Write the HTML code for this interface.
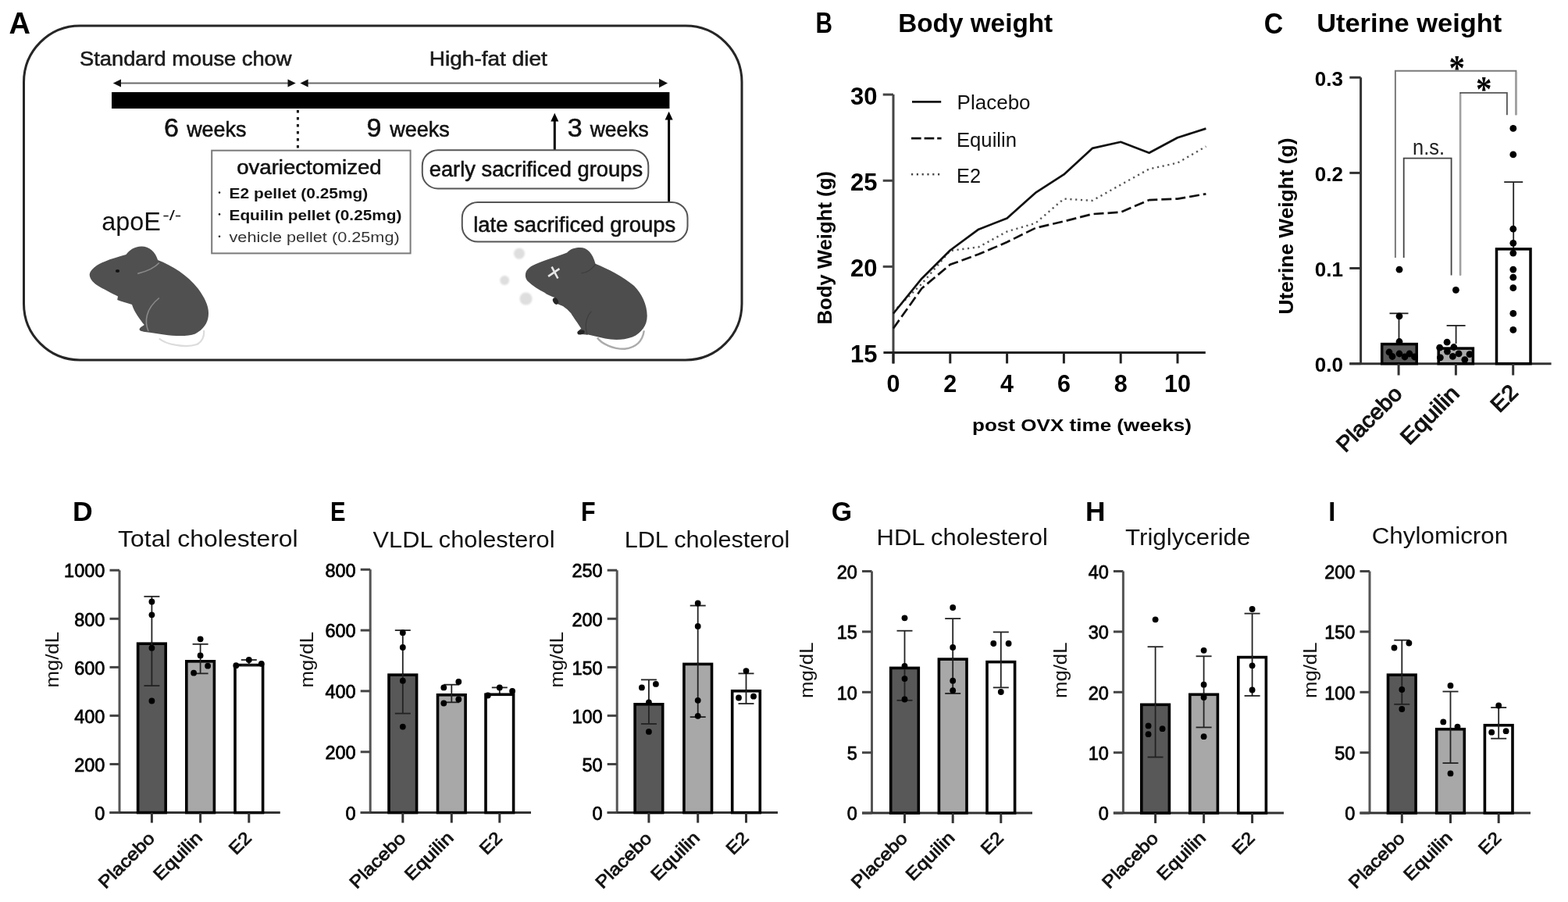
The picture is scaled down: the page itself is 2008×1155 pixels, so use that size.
<!DOCTYPE html>
<html><head><meta charset="utf-8"><title>Figure</title>
<style>
html,body{margin:0;padding:0;background:#fff;}
svg{display:block;}
svg text{font-family:"Liberation Sans", Arial, sans-serif;}
.hv{stroke:#111;stroke-width:0.55px;paint-order:stroke;}
.sb{stroke:#111;stroke-width:0.8px;paint-order:stroke;}
.sb2{stroke:#111;stroke-width:1.1px;paint-order:stroke;}
</style></head>
<body>
<svg width="2008" height="1155" viewBox="0 0 2008 1155">
<defs><filter id="bl" x="-50%" y="-50%" width="200%" height="200%"><feGaussianBlur stdDeviation="1.3"/></filter></defs>
<rect x="0" y="0" width="2008" height="1155" fill="#fff"/>
<text x="11.5" y="42.8" font-size="38.5" font-weight="bold" textLength="27.5" lengthAdjust="spacingAndGlyphs">A</text>
<rect x="30.5" y="33.0" width="919.5" height="428.0" fill="none" stroke="#262626" stroke-width="3" rx="72" />
<text x="102.0" y="83.6" font-size="26" textLength="271.5" lengthAdjust="spacingAndGlyphs" fill="#1a1a1a" class="hv">Standard mouse chow</text>
<text x="549.8" y="83.6" font-size="26" textLength="151.0" lengthAdjust="spacingAndGlyphs" fill="#1a1a1a" class="hv">High-fat diet</text>
<line x1="150.0" y1="106.5" x2="372.0" y2="106.5" stroke="#6a6a6a" stroke-width="2.2" />
<line x1="390.0" y1="106.5" x2="848.0" y2="106.5" stroke="#6a6a6a" stroke-width="2.2" />
<path d="M144.8 106.5 L155 101.5 L155 111.5 Z" fill="#111" />
<path d="M378.7 106.5 L368.5 101.5 L368.5 111.5 Z" fill="#111" />
<path d="M384.4 106.5 L394.6 101.5 L394.6 111.5 Z" fill="#111" />
<path d="M855 106.5 L844 100.8 L844 112.2 Z" fill="#111" />
<rect x="143.0" y="118.0" width="714.4" height="21.0" fill="#000" />
<line x1="381.4" y1="141.0" x2="381.4" y2="192.0" stroke="#111" stroke-width="3" stroke-dasharray="3.5 5.5"/>
<text x="209.9" y="175.2" font-size="34" fill="#111" class="hv">6</text>
<text x="239.2" y="175.2" font-size="28" textLength="76.2" lengthAdjust="spacingAndGlyphs" fill="#111" class="hv">weeks</text>
<text x="469.4" y="175.2" font-size="34" fill="#111" class="hv">9</text>
<text x="499.2" y="175.2" font-size="28" textLength="76.6" lengthAdjust="spacingAndGlyphs" fill="#111" class="hv">weeks</text>
<text x="726.8" y="175.4" font-size="34" fill="#111" class="hv">3</text>
<text x="755.8" y="175.4" font-size="28" textLength="74.8" lengthAdjust="spacingAndGlyphs" fill="#111" class="hv">weeks</text>
<line x1="710.3" y1="153.0" x2="710.3" y2="192.0" stroke="#000" stroke-width="3" />
<path d="M710.3 144.8 L715.3 155.5 L705.3 155.5 Z" fill="#000" />
<line x1="856.6" y1="151.0" x2="856.6" y2="259.0" stroke="#000" stroke-width="3" />
<path d="M856.6 142.8 L861.6 153.5 L851.6 153.5 Z" fill="#000" />
<rect x="271.2" y="192.7" width="254.4" height="131.7" fill="none" stroke="#7a7a7a" stroke-width="2" />
<text x="303.2" y="223.3" font-size="26" textLength="185.5" lengthAdjust="spacingAndGlyphs" fill="#111" class="hv">ovariectomized</text>
<circle cx="281.0" cy="246.6" r="1.3" fill="#222"/>
<circle cx="281.0" cy="274.4" r="1.3" fill="#222"/>
<circle cx="281.0" cy="302.8" r="1.3" fill="#222"/>
<text x="293.5" y="254.0" font-size="17.5" font-weight="bold" textLength="177.8" lengthAdjust="spacingAndGlyphs" fill="#111">E2 pellet (0.25mg)</text>
<text x="293.5" y="281.9" font-size="17.5" font-weight="bold" textLength="221.0" lengthAdjust="spacingAndGlyphs" fill="#111">Equilin pellet (0.25mg)</text>
<text x="293.5" y="309.8" font-size="17.5" textLength="218.2" lengthAdjust="spacingAndGlyphs" fill="#333">vehicle pellet (0.25mg)</text>
<rect x="540.8" y="192.2" width="289.5" height="49.3" fill="#fff" stroke="#555" stroke-width="2" rx="20" />
<text x="549.7" y="226.2" font-size="27" textLength="273.4" lengthAdjust="spacingAndGlyphs" fill="#111" class="hv">early sacrificed groups</text>
<rect x="591.8" y="258.9" width="288.7" height="50.7" fill="#fff" stroke="#555" stroke-width="2" rx="20" />
<text x="606.2" y="297.0" font-size="27" textLength="259.0" lengthAdjust="spacingAndGlyphs" fill="#111" class="hv">late sacrificed groups</text>
<text x="130.3" y="295.3" font-size="32.5" textLength="75.6" lengthAdjust="spacingAndGlyphs" fill="#111">apoE</text>
<text x="208.2" y="281.5" font-size="19" textLength="24.2" lengthAdjust="spacingAndGlyphs" fill="#111">-/-</text>
<path d="M114.7 351.2 C115.5 345.5 124 338.5 134.6 334.8 C142 331.5 152 329 161.4 326.1 C165 320.5 172 315.6 181.3 315.4 C191 315.6 199 322 202.1 333.1 C220 340 240 352 254 370 C262 381 267.5 392 267 402 C266.8 412 262 421 250 427.5 C240 431 225 430.5 210 428.5 L191.7 425.7 C186 425 181 424.5 179 423 C177.5 421 180 419 184.8 416.1 C180 410 172 400 169 390 C163 388 155 386 150.2 384.1 L151 379.5 C144 376 132 370 124 365 C118 361 114.5 356 114.7 351.2 Z" fill="#505050" />
<path d="M203.8 433.5 C212 441 238 446 252 441 C259 438 262 430 261 423" fill="none" stroke="#dcdcdc" stroke-width="2.2" />
<ellipse cx="150.5" cy="347" rx="2.6" ry="2" fill="#111"/>
<path d="M176.2 350.4 C186 348 198 343 203.8 336.5" fill="none" stroke="#8a8a8a" stroke-width="1.6" />
<path d="M190 424 C185 412 186 396 203.8 381.5" fill="none" stroke="#8a8a8a" stroke-width="1.6" />
<circle cx="665" cy="324.7" r="7" fill="#dedede" filter="url(#bl)"/>
<circle cx="646.2" cy="359" r="6" fill="#dedede" filter="url(#bl)"/>
<circle cx="673.5" cy="382.5" r="8" fill="#dedede" filter="url(#bl)"/>
<path d="M672.9 351.9 C673 345 680 340 690 336.5 C700 332 712 329 726.1 323.4 C731 318 737 316.9 743 316.9 C752 317 759 324 762.5 337.7 C778 344 798 354 812 366 C822 376 828.5 390 828.7 403.9 C829 416 822 426 810 431.5 C798 436 785 435.5 775 433.5 L753.4 428.6 C749 428.3 745 428.2 742 427.5 C739 426 740 423.5 744.3 420.8 C740 414 734 406 731.3 401.3 C727 396 722 392 718.3 390.9 C714 389 711 388 709.9 387 L711.2 381.2 C705 379 700 377 697.5 374.7 C690 371 682 366 675.5 359.7 C673.5 357 672.7 354.5 672.9 351.9 Z" fill="#4d4d4d" />
<path d="M765 432.5 C770 440 785 447 800 446.8 C815 445 823 436 824.8 423.4" fill="none" stroke="#ababab" stroke-width="2.4" />
<path d="M702.1 353.9 L716.4 344.2 M706.6 341.6 L714.4 356.5" fill="none" stroke="#e6e6e6" stroke-width="2.6" />
<path d="M762.5 338.3 C758 345 752 349 744.3 350" fill="none" stroke="#3e3e3e" stroke-width="1.2" />
<ellipse cx="711.5" cy="385.5" rx="3.2" ry="4.6" fill="#262626" transform="rotate(-30 711.5 385.5)"/>
<ellipse cx="744" cy="425.5" rx="4.8" ry="2.8" fill="#262626" transform="rotate(-15 744 425.5)"/>
<path d="M752 428.6 C749 420 749 408 757.3 398.7" fill="none" stroke="#3e3e3e" stroke-width="1.2" />
<text x="1044.4" y="42.3" font-size="36" font-weight="bold" textLength="21.5" lengthAdjust="spacingAndGlyphs">B</text>
<text x="1150.2" y="40.6" font-size="33" font-weight="bold" textLength="198.0" lengthAdjust="spacingAndGlyphs">Body weight</text>
<line x1="1144.0" y1="121.1" x2="1144.0" y2="465.4" stroke="#444" stroke-width="3" />
<line x1="1131.4" y1="451.6" x2="1543.8" y2="451.6" stroke="#222" stroke-width="3" />
<line x1="1130.7" y1="121.1" x2="1144.0" y2="121.1" stroke="#444" stroke-width="3" />
<text x="1123.5" y="134.1" font-size="31" font-weight="bold" text-anchor="end">30</text>
<line x1="1130.7" y1="231.3" x2="1144.0" y2="231.3" stroke="#444" stroke-width="3" />
<text x="1123.5" y="244.3" font-size="31" font-weight="bold" text-anchor="end">25</text>
<line x1="1130.7" y1="341.4" x2="1144.0" y2="341.4" stroke="#444" stroke-width="3" />
<text x="1123.5" y="354.4" font-size="31" font-weight="bold" text-anchor="end">20</text>
<text x="1123.5" y="463.8" font-size="31" font-weight="bold" text-anchor="end">15</text>
<line x1="1144.0" y1="451.6" x2="1144.0" y2="465.4" stroke="#222" stroke-width="3" />
<text x="1144.0" y="502.2" font-size="30.5" font-weight="bold" text-anchor="middle">0</text>
<line x1="1216.8" y1="451.6" x2="1216.8" y2="465.4" stroke="#222" stroke-width="3" />
<text x="1216.8" y="502.2" font-size="30.5" font-weight="bold" text-anchor="middle">2</text>
<line x1="1289.6" y1="451.6" x2="1289.6" y2="465.4" stroke="#222" stroke-width="3" />
<text x="1289.6" y="502.2" font-size="30.5" font-weight="bold" text-anchor="middle">4</text>
<line x1="1362.4" y1="451.6" x2="1362.4" y2="465.4" stroke="#222" stroke-width="3" />
<text x="1362.4" y="502.2" font-size="30.5" font-weight="bold" text-anchor="middle">6</text>
<line x1="1435.2" y1="451.6" x2="1435.2" y2="465.4" stroke="#222" stroke-width="3" />
<text x="1435.2" y="502.2" font-size="30.5" font-weight="bold" text-anchor="middle">8</text>
<line x1="1508.0" y1="451.6" x2="1508.0" y2="465.4" stroke="#222" stroke-width="3" />
<text x="1508.0" y="502.2" font-size="30.5" font-weight="bold" text-anchor="middle">10</text>
<text x="1245.0" y="552.2" font-size="22.5" font-weight="bold" textLength="281.0" lengthAdjust="spacingAndGlyphs">post OVX time (weeks)</text>
<text x="1065.3" y="415.6" font-size="25.6" font-weight="bold" textLength="196.5" lengthAdjust="spacingAndGlyphs" transform="rotate(-90 1065.3 415.6)">Body Weight (g)</text>
<line x1="1168.0" y1="130.4" x2="1205.2" y2="130.4" stroke="#111" stroke-width="2.8" />
<text x="1225.6" y="139.7" font-size="25.6" textLength="94.0" lengthAdjust="spacingAndGlyphs" fill="#111">Placebo</text>
<line x1="1167.0" y1="177.2" x2="1205.6" y2="177.2" stroke="#111" stroke-width="2.8" stroke-dasharray="12.7 3.9"/>
<text x="1225.0" y="188.2" font-size="25.6" textLength="77.0" lengthAdjust="spacingAndGlyphs" fill="#111">Equilin</text>
<line x1="1167.0" y1="223.2" x2="1205.6" y2="223.2" stroke="#444" stroke-width="2.4" stroke-dasharray="2.2 4.6"/>
<text x="1225.0" y="234.2" font-size="25.6" textLength="31.0" lengthAdjust="spacingAndGlyphs" fill="#111">E2</text>
<polyline points="1144.0,399.0 1180.4,363.5 1216.8,321.0 1253.2,316.4 1289.6,296.5 1326.0,285.8 1362.4,254.6 1398.8,256.9 1435.2,236.6 1471.6,216.4 1508.0,208.6 1544.4,187.5" fill="none" stroke="#555" stroke-width="2.4" stroke-dasharray="2.2 4.6"/>
<polyline points="1144.0,420.5 1180.4,369.3 1216.8,338.8 1253.2,325.6 1289.6,310.0 1326.0,292.0 1362.4,283.4 1398.8,274.1 1435.2,271.7 1471.6,256.1 1508.0,254.6 1544.4,248.3" fill="none" stroke="#111" stroke-width="2.7" stroke-dasharray="13 5"/>
<polyline points="1144.0,401.5 1180.4,356.7 1216.8,320.5 1253.2,293.7 1289.6,279.5 1326.0,246.9 1362.4,223.4 1398.8,189.9 1435.2,181.8 1471.6,195.8 1508.0,176.2 1544.4,164.6" fill="none" stroke="#111" stroke-width="2.7" stroke-linejoin="round"/>
<text x="1618.8" y="42.5" font-size="37" font-weight="bold" textLength="24.5" lengthAdjust="spacingAndGlyphs">C</text>
<text x="1686.2" y="40.6" font-size="33" font-weight="bold" textLength="237.0" lengthAdjust="spacingAndGlyphs">Uterine weight</text>
<path d="M1786.9 330 L1786.9 90.8 L1941.4 90.8 L1941.4 147.3" fill="none" stroke="#7a7a7a" stroke-width="2" />
<line x1="1941.4" y1="92.0" x2="1941.4" y2="147.3" stroke="#a0a0a0" stroke-width="2.6" />
<path d="M1870.1 352.5 L1870.1 118.9 L1929.9 118.9 L1929.9 147.3" fill="none" stroke="#555" stroke-width="1.8" />
<line x1="1870.1" y1="120.0" x2="1870.1" y2="352.5" stroke="#a0a0a0" stroke-width="2.6" />
<path d="M1797.7 330 L1797.7 202.7 L1858.6 202.7 L1858.6 352.5" fill="none" stroke="#444" stroke-width="1.8" />
<text x="1865.7" y="102.5" font-size="46" font-weight="bold" text-anchor="middle" textLength="20.5" lengthAdjust="spacingAndGlyphs" style="font-family:'Liberation Serif', serif">*</text>
<text x="1900.2" y="130.2" font-size="46" font-weight="bold" text-anchor="middle" textLength="20.5" lengthAdjust="spacingAndGlyphs" style="font-family:'Liberation Serif', serif">*</text>
<text x="1809.1" y="197.9" font-size="28" textLength="41.0" lengthAdjust="spacingAndGlyphs" fill="#222">n.s.</text>
<line x1="1742.6" y1="99.2" x2="1742.6" y2="465.7" stroke="#333" stroke-width="3" />
<line x1="1728.3" y1="465.7" x2="1986.6" y2="465.7" stroke="#333" stroke-width="3" />
<line x1="1728.3" y1="465.7" x2="1742.6" y2="465.7" stroke="#333" stroke-width="3" />
<text x="1720.0" y="476.2" font-size="26" font-weight="bold" text-anchor="end">0.0</text>
<line x1="1728.3" y1="343.5" x2="1742.6" y2="343.5" stroke="#333" stroke-width="3" />
<text x="1720.0" y="354.0" font-size="26" font-weight="bold" text-anchor="end">0.1</text>
<line x1="1728.3" y1="221.4" x2="1742.6" y2="221.4" stroke="#333" stroke-width="3" />
<text x="1720.0" y="231.9" font-size="26" font-weight="bold" text-anchor="end">0.2</text>
<line x1="1728.3" y1="99.2" x2="1742.6" y2="99.2" stroke="#333" stroke-width="3" />
<text x="1720.0" y="109.7" font-size="26" font-weight="bold" text-anchor="end">0.3</text>
<line x1="1791.5" y1="401.3" x2="1791.5" y2="440.0" stroke="#222" stroke-width="1.8" />
<line x1="1779.5" y1="401.3" x2="1803.5" y2="401.3" stroke="#222" stroke-width="1.8" />
<line x1="1864.6" y1="416.9" x2="1864.6" y2="440.0" stroke="#222" stroke-width="1.8" />
<line x1="1852.6" y1="416.9" x2="1876.6" y2="416.9" stroke="#222" stroke-width="1.8" />
<line x1="1938.2" y1="233.1" x2="1938.2" y2="440.0" stroke="#222" stroke-width="1.8" />
<line x1="1926.2" y1="233.1" x2="1950.2" y2="233.1" stroke="#222" stroke-width="1.8" />
<rect x="1769.7" y="440.6" width="44.5" height="25.1" fill="#5a5a5a" stroke="#000" stroke-width="3.5" />
<rect x="1842.2" y="446.1" width="44.2" height="19.6" fill="#aaa" stroke="#000" stroke-width="3.5" />
<rect x="1916.5" y="318.9" width="43.5" height="146.8" fill="#fff" stroke="#000" stroke-width="3.5" />
<circle cx="1792.0" cy="345.2" r="4.4" fill="#000"/>
<circle cx="1792.0" cy="404.8" r="4.4" fill="#000"/>
<circle cx="1792.0" cy="437.5" r="4.4" fill="#000"/>
<circle cx="1779.0" cy="451.0" r="4.4" fill="#000"/>
<circle cx="1792.0" cy="453.0" r="4.4" fill="#000"/>
<circle cx="1805.0" cy="453.0" r="4.4" fill="#000"/>
<circle cx="1783.0" cy="456.5" r="4.4" fill="#000"/>
<circle cx="1799.0" cy="457.0" r="4.4" fill="#000"/>
<circle cx="1811.5" cy="457.0" r="4.4" fill="#000"/>
<circle cx="1864.4" cy="371.3" r="4.4" fill="#000"/>
<circle cx="1853.1" cy="438.2" r="4.4" fill="#000"/>
<circle cx="1843.7" cy="445.2" r="4.4" fill="#000"/>
<circle cx="1861.8" cy="444.5" r="4.4" fill="#000"/>
<circle cx="1853.4" cy="450.1" r="4.4" fill="#000"/>
<circle cx="1868.1" cy="452.9" r="4.4" fill="#000"/>
<circle cx="1860.4" cy="456.4" r="4.4" fill="#000"/>
<circle cx="1844.4" cy="457.8" r="4.4" fill="#000"/>
<circle cx="1875.8" cy="460.6" r="4.4" fill="#000"/>
<circle cx="1882.0" cy="453.6" r="4.4" fill="#000"/>
<circle cx="1937.8" cy="164.4" r="4.4" fill="#000"/>
<circle cx="1937.8" cy="197.9" r="4.4" fill="#000"/>
<circle cx="1937.8" cy="293.2" r="4.4" fill="#000"/>
<circle cx="1937.8" cy="311.3" r="4.4" fill="#000"/>
<circle cx="1937.8" cy="324.1" r="4.4" fill="#000"/>
<circle cx="1937.8" cy="345.1" r="4.4" fill="#000"/>
<circle cx="1937.8" cy="355.2" r="4.4" fill="#000"/>
<circle cx="1937.8" cy="368.7" r="4.4" fill="#000"/>
<circle cx="1937.8" cy="401.4" r="4.4" fill="#000"/>
<circle cx="1937.8" cy="422.4" r="4.4" fill="#000"/>
<line x1="1791.1" y1="465.7" x2="1791.1" y2="480.5" stroke="#333" stroke-width="3" />
<text x="1797.3" y="505.8" font-size="27.8" text-anchor="end" textLength="105.5" lengthAdjust="spacingAndGlyphs" fill="#111" transform="rotate(-45 1797.3 505.8)" class="sb2">Placebo</text>
<line x1="1864.4" y1="465.7" x2="1864.4" y2="480.5" stroke="#333" stroke-width="3" />
<text x="1870.5" y="505.2" font-size="27.8" text-anchor="end" textLength="93.0" lengthAdjust="spacingAndGlyphs" fill="#111" transform="rotate(-45 1870.5 505.2)" class="sb2">Equilin</text>
<line x1="1937.7" y1="465.7" x2="1937.7" y2="480.5" stroke="#333" stroke-width="3" />
<text x="1945.7" y="504.0" font-size="27.8" text-anchor="end" textLength="36.0" lengthAdjust="spacingAndGlyphs" fill="#111" transform="rotate(-45 1945.7 504.0)" class="sb2">E2</text>
<text x="1656.0" y="402.6" font-size="26" font-weight="bold" textLength="226.0" lengthAdjust="spacingAndGlyphs" transform="rotate(-90 1656.0 402.6)">Uterine Weight (g)</text>
<text x="93.0" y="667.4" font-size="35" font-weight="bold" textLength="25.7" lengthAdjust="spacingAndGlyphs">D</text>
<text x="151.1" y="700.3" font-size="29" textLength="230.6" lengthAdjust="spacingAndGlyphs" fill="#111">Total cholesterol</text>
<line x1="153.0" y1="730.2" x2="153.0" y2="1040.6" stroke="#555" stroke-width="3" />
<line x1="140.5" y1="1040.6" x2="358.8" y2="1040.6" stroke="#333" stroke-width="3" />
<line x1="140.5" y1="1040.6" x2="153.0" y2="1040.6" stroke="#444" stroke-width="3" />
<text x="134.4" y="1049.8" font-size="23.5" text-anchor="end" class="sb">0</text>
<line x1="140.5" y1="978.5" x2="153.0" y2="978.5" stroke="#444" stroke-width="3" />
<text x="134.4" y="987.7" font-size="23.5" text-anchor="end" class="sb">200</text>
<line x1="140.5" y1="916.4" x2="153.0" y2="916.4" stroke="#444" stroke-width="3" />
<text x="134.4" y="925.6" font-size="23.5" text-anchor="end" class="sb">400</text>
<line x1="140.5" y1="854.4" x2="153.0" y2="854.4" stroke="#444" stroke-width="3" />
<text x="134.4" y="863.6" font-size="23.5" text-anchor="end" class="sb">600</text>
<line x1="140.5" y1="792.3" x2="153.0" y2="792.3" stroke="#444" stroke-width="3" />
<text x="134.4" y="801.5" font-size="23.5" text-anchor="end" class="sb">800</text>
<line x1="140.5" y1="730.2" x2="153.0" y2="730.2" stroke="#444" stroke-width="3" />
<text x="134.4" y="739.4" font-size="23.5" text-anchor="end" class="sb">1000</text>
<line x1="194.4" y1="763.8" x2="194.4" y2="824.4" stroke="#222" stroke-width="1.8" />
<line x1="184.4" y1="763.8" x2="204.4" y2="763.8" stroke="#222" stroke-width="1.8" />
<rect x="176.6" y="824.2" width="35.6" height="216.4" fill="#585858" stroke="#000" stroke-width="3.6" />
<line x1="194.4" y1="822.4" x2="194.4" y2="878.1" stroke="#222" stroke-width="1.8" />
<line x1="184.4" y1="878.1" x2="204.4" y2="878.1" stroke="#222" stroke-width="1.8" />
<circle cx="194.4" cy="770.5" r="3.9" fill="#000"/>
<circle cx="194.4" cy="787.3" r="3.9" fill="#000"/>
<circle cx="194.4" cy="829.7" r="3.9" fill="#000"/>
<circle cx="194.4" cy="897.5" r="3.9" fill="#000"/>
<line x1="194.4" y1="1040.6" x2="194.4" y2="1053.6" stroke="#333" stroke-width="3" />
<line x1="256.6" y1="824.8" x2="256.6" y2="847.0" stroke="#222" stroke-width="1.8" />
<line x1="246.6" y1="824.8" x2="266.6" y2="824.8" stroke="#222" stroke-width="1.8" />
<rect x="238.8" y="846.8" width="35.6" height="193.8" fill="#a8a8a8" stroke="#000" stroke-width="3.6" />
<line x1="256.6" y1="845.0" x2="256.6" y2="862.4" stroke="#222" stroke-width="1.8" />
<line x1="246.6" y1="862.4" x2="266.6" y2="862.4" stroke="#222" stroke-width="1.8" />
<circle cx="256.6" cy="818.3" r="3.9" fill="#000"/>
<circle cx="256.6" cy="839.4" r="3.9" fill="#000"/>
<circle cx="248.1" cy="861.7" r="3.9" fill="#000"/>
<circle cx="266.1" cy="852.7" r="3.9" fill="#000"/>
<line x1="256.6" y1="1040.6" x2="256.6" y2="1053.6" stroke="#333" stroke-width="3" />
<line x1="318.8" y1="845.0" x2="318.8" y2="851.8" stroke="#222" stroke-width="1.8" />
<line x1="308.8" y1="845.0" x2="328.8" y2="845.0" stroke="#222" stroke-width="1.8" />
<rect x="301.0" y="851.6" width="35.6" height="189.0" fill="#fff" stroke="#000" stroke-width="3.6" />
<line x1="318.8" y1="849.8" x2="318.8" y2="851.5" stroke="#222" stroke-width="1.8" />
<line x1="308.8" y1="851.5" x2="328.8" y2="851.5" stroke="#222" stroke-width="1.8" />
<circle cx="318.8" cy="845.0" r="3.9" fill="#000"/>
<circle cx="302.3" cy="852.2" r="3.9" fill="#000"/>
<circle cx="334.8" cy="849.8" r="3.9" fill="#000"/>
<line x1="318.8" y1="1040.6" x2="318.8" y2="1053.6" stroke="#333" stroke-width="3" />
<text x="199.4" y="1074.8" font-size="22.5" text-anchor="end" textLength="90.7" lengthAdjust="spacingAndGlyphs" fill="#111" transform="rotate(-45 199.4 1074.8)" class="sb">Placebo</text>
<text x="260.4" y="1074.0" font-size="22.5" text-anchor="end" textLength="77.6" lengthAdjust="spacingAndGlyphs" fill="#111" transform="rotate(-45 260.4 1074.0)" class="sb">Equilin</text>
<text x="323.4" y="1074.3" font-size="22.5" text-anchor="end" textLength="30.0" lengthAdjust="spacingAndGlyphs" fill="#111" transform="rotate(-45 323.4 1074.3)" class="sb">E2</text>
<text x="74.7" y="880.5" font-size="24.5" textLength="71.5" lengthAdjust="spacingAndGlyphs" fill="#111" transform="rotate(-90 74.7 880.5)">mg/dL</text>
<text x="423.0" y="667.4" font-size="35" font-weight="bold" textLength="19.5" lengthAdjust="spacingAndGlyphs">E</text>
<text x="477.6" y="700.6" font-size="29" textLength="232.9" lengthAdjust="spacingAndGlyphs" fill="#111">VLDL cholesterol</text>
<line x1="474.2" y1="729.3" x2="474.2" y2="1040.6" stroke="#555" stroke-width="3" />
<line x1="461.7" y1="1040.6" x2="680.0" y2="1040.6" stroke="#333" stroke-width="3" />
<line x1="461.7" y1="1040.6" x2="474.2" y2="1040.6" stroke="#444" stroke-width="3" />
<text x="455.6" y="1049.8" font-size="23.5" text-anchor="end" class="sb">0</text>
<line x1="461.7" y1="962.8" x2="474.2" y2="962.8" stroke="#444" stroke-width="3" />
<text x="455.6" y="972.0" font-size="23.5" text-anchor="end" class="sb">200</text>
<line x1="461.7" y1="884.9" x2="474.2" y2="884.9" stroke="#444" stroke-width="3" />
<text x="455.6" y="894.1" font-size="23.5" text-anchor="end" class="sb">400</text>
<line x1="461.7" y1="807.1" x2="474.2" y2="807.1" stroke="#444" stroke-width="3" />
<text x="455.6" y="816.3" font-size="23.5" text-anchor="end" class="sb">600</text>
<line x1="461.7" y1="729.3" x2="474.2" y2="729.3" stroke="#444" stroke-width="3" />
<text x="455.6" y="738.5" font-size="23.5" text-anchor="end" class="sb">800</text>
<line x1="515.8" y1="807.1" x2="515.8" y2="864.4" stroke="#222" stroke-width="1.8" />
<line x1="505.8" y1="807.1" x2="525.8" y2="807.1" stroke="#222" stroke-width="1.8" />
<rect x="498.0" y="864.2" width="35.6" height="176.4" fill="#585858" stroke="#000" stroke-width="3.6" />
<line x1="515.8" y1="862.4" x2="515.8" y2="913.6" stroke="#222" stroke-width="1.8" />
<line x1="505.8" y1="913.6" x2="525.8" y2="913.6" stroke="#222" stroke-width="1.8" />
<circle cx="515.8" cy="810.2" r="3.9" fill="#000"/>
<circle cx="515.8" cy="829.0" r="3.9" fill="#000"/>
<circle cx="515.8" cy="871.7" r="3.9" fill="#000"/>
<circle cx="515.8" cy="930.6" r="3.9" fill="#000"/>
<line x1="515.8" y1="1040.6" x2="515.8" y2="1053.6" stroke="#333" stroke-width="3" />
<line x1="578.3" y1="876.7" x2="578.3" y2="890.0" stroke="#222" stroke-width="1.8" />
<line x1="568.3" y1="876.7" x2="588.3" y2="876.7" stroke="#222" stroke-width="1.8" />
<rect x="560.5" y="889.8" width="35.6" height="150.8" fill="#a8a8a8" stroke="#000" stroke-width="3.6" />
<line x1="578.3" y1="888.0" x2="578.3" y2="899.3" stroke="#222" stroke-width="1.8" />
<line x1="568.3" y1="899.3" x2="588.3" y2="899.3" stroke="#222" stroke-width="1.8" />
<circle cx="568.3" cy="880.4" r="3.9" fill="#000"/>
<circle cx="587.3" cy="872.9" r="3.9" fill="#000"/>
<circle cx="568.3" cy="900.5" r="3.9" fill="#000"/>
<circle cx="587.3" cy="895.5" r="3.9" fill="#000"/>
<line x1="578.3" y1="1040.6" x2="578.3" y2="1053.6" stroke="#333" stroke-width="3" />
<line x1="639.8" y1="880.4" x2="639.8" y2="889.5" stroke="#222" stroke-width="1.8" />
<line x1="629.8" y1="880.4" x2="649.8" y2="880.4" stroke="#222" stroke-width="1.8" />
<rect x="622.0" y="889.3" width="35.6" height="151.3" fill="#fff" stroke="#000" stroke-width="3.6" />
<circle cx="639.8" cy="880.4" r="3.9" fill="#000"/>
<circle cx="624.8" cy="890.5" r="3.9" fill="#000"/>
<circle cx="656.1" cy="885.0" r="3.9" fill="#000"/>
<line x1="639.8" y1="1040.6" x2="639.8" y2="1053.6" stroke="#333" stroke-width="3" />
<text x="520.8" y="1074.8" font-size="22.5" text-anchor="end" textLength="90.7" lengthAdjust="spacingAndGlyphs" fill="#111" transform="rotate(-45 520.8 1074.8)" class="sb">Placebo</text>
<text x="582.1" y="1074.0" font-size="22.5" text-anchor="end" textLength="77.6" lengthAdjust="spacingAndGlyphs" fill="#111" transform="rotate(-45 582.1 1074.0)" class="sb">Equilin</text>
<text x="644.4" y="1074.3" font-size="22.5" text-anchor="end" textLength="30.0" lengthAdjust="spacingAndGlyphs" fill="#111" transform="rotate(-45 644.4 1074.3)" class="sb">E2</text>
<text x="400.7" y="880.5" font-size="24.5" textLength="71.5" lengthAdjust="spacingAndGlyphs" fill="#111" transform="rotate(-90 400.7 880.5)">mg/dL</text>
<text x="743.9" y="667.4" font-size="35" font-weight="bold" textLength="18.6" lengthAdjust="spacingAndGlyphs">F</text>
<text x="799.7" y="700.6" font-size="29" textLength="211.7" lengthAdjust="spacingAndGlyphs" fill="#111">LDL cholesterol</text>
<line x1="790.2" y1="730.2" x2="790.2" y2="1040.6" stroke="#555" stroke-width="3" />
<line x1="777.7" y1="1040.6" x2="996.0" y2="1040.6" stroke="#333" stroke-width="3" />
<line x1="777.7" y1="1040.6" x2="790.2" y2="1040.6" stroke="#444" stroke-width="3" />
<text x="771.6" y="1049.8" font-size="23.5" text-anchor="end" class="sb">0</text>
<line x1="777.7" y1="978.5" x2="790.2" y2="978.5" stroke="#444" stroke-width="3" />
<text x="771.6" y="987.7" font-size="23.5" text-anchor="end" class="sb">50</text>
<line x1="777.7" y1="916.4" x2="790.2" y2="916.4" stroke="#444" stroke-width="3" />
<text x="771.6" y="925.6" font-size="23.5" text-anchor="end" class="sb">100</text>
<line x1="777.7" y1="854.4" x2="790.2" y2="854.4" stroke="#444" stroke-width="3" />
<text x="771.6" y="863.6" font-size="23.5" text-anchor="end" class="sb">150</text>
<line x1="777.7" y1="792.3" x2="790.2" y2="792.3" stroke="#444" stroke-width="3" />
<text x="771.6" y="801.5" font-size="23.5" text-anchor="end" class="sb">200</text>
<line x1="777.7" y1="730.2" x2="790.2" y2="730.2" stroke="#444" stroke-width="3" />
<text x="771.6" y="739.4" font-size="23.5" text-anchor="end" class="sb">250</text>
<line x1="830.9" y1="870.4" x2="830.9" y2="902.0" stroke="#222" stroke-width="1.8" />
<line x1="820.9" y1="870.4" x2="840.9" y2="870.4" stroke="#222" stroke-width="1.8" />
<rect x="813.1" y="901.8" width="35.6" height="138.8" fill="#585858" stroke="#000" stroke-width="3.6" />
<line x1="830.9" y1="900.0" x2="830.9" y2="926.9" stroke="#222" stroke-width="1.8" />
<line x1="820.9" y1="926.9" x2="840.9" y2="926.9" stroke="#222" stroke-width="1.8" />
<circle cx="821.9" cy="880.4" r="3.9" fill="#000"/>
<circle cx="839.9" cy="875.9" r="3.9" fill="#000"/>
<circle cx="830.9" cy="899.3" r="3.9" fill="#000"/>
<circle cx="830.9" cy="936.9" r="3.9" fill="#000"/>
<line x1="830.9" y1="1040.6" x2="830.9" y2="1053.6" stroke="#333" stroke-width="3" />
<line x1="893.7" y1="775.5" x2="893.7" y2="850.6" stroke="#222" stroke-width="1.8" />
<line x1="883.7" y1="775.5" x2="903.7" y2="775.5" stroke="#222" stroke-width="1.8" />
<rect x="875.9" y="850.4" width="35.6" height="190.2" fill="#a8a8a8" stroke="#000" stroke-width="3.6" />
<line x1="893.7" y1="848.6" x2="893.7" y2="918.1" stroke="#222" stroke-width="1.8" />
<line x1="883.7" y1="918.1" x2="903.7" y2="918.1" stroke="#222" stroke-width="1.8" />
<circle cx="893.7" cy="772.5" r="3.9" fill="#000"/>
<circle cx="893.7" cy="801.9" r="3.9" fill="#000"/>
<circle cx="893.7" cy="896.8" r="3.9" fill="#000"/>
<circle cx="893.7" cy="916.8" r="3.9" fill="#000"/>
<line x1="893.7" y1="1040.6" x2="893.7" y2="1053.6" stroke="#333" stroke-width="3" />
<line x1="955.5" y1="862.4" x2="955.5" y2="885.0" stroke="#222" stroke-width="1.8" />
<line x1="945.5" y1="862.4" x2="965.5" y2="862.4" stroke="#222" stroke-width="1.8" />
<rect x="937.7" y="884.8" width="35.6" height="155.8" fill="#fff" stroke="#000" stroke-width="3.6" />
<line x1="955.5" y1="883.0" x2="955.5" y2="901.0" stroke="#222" stroke-width="1.8" />
<line x1="945.5" y1="901.0" x2="965.5" y2="901.0" stroke="#222" stroke-width="1.8" />
<circle cx="955.5" cy="859.1" r="3.9" fill="#000"/>
<circle cx="946.0" cy="893.5" r="3.9" fill="#000"/>
<circle cx="965.0" cy="891.7" r="3.9" fill="#000"/>
<line x1="955.5" y1="1040.6" x2="955.5" y2="1053.6" stroke="#333" stroke-width="3" />
<text x="835.9" y="1074.8" font-size="22.5" text-anchor="end" textLength="90.7" lengthAdjust="spacingAndGlyphs" fill="#111" transform="rotate(-45 835.9 1074.8)" class="sb">Placebo</text>
<text x="897.5" y="1074.0" font-size="22.5" text-anchor="end" textLength="77.6" lengthAdjust="spacingAndGlyphs" fill="#111" transform="rotate(-45 897.5 1074.0)" class="sb">Equilin</text>
<text x="960.1" y="1074.3" font-size="22.5" text-anchor="end" textLength="30.0" lengthAdjust="spacingAndGlyphs" fill="#111" transform="rotate(-45 960.1 1074.3)" class="sb">E2</text>
<text x="720.7" y="880.5" font-size="24.5" textLength="71.5" lengthAdjust="spacingAndGlyphs" fill="#111" transform="rotate(-90 720.7 880.5)">mg/dL</text>
<text x="1064.8" y="667.4" font-size="35" font-weight="bold" textLength="26.4" lengthAdjust="spacingAndGlyphs">G</text>
<text x="1122.5" y="698.0" font-size="29" textLength="219.3" lengthAdjust="spacingAndGlyphs" fill="#111">HDL cholesterol</text>
<line x1="1116.5" y1="731.5" x2="1116.5" y2="1041.1" stroke="#555" stroke-width="3" />
<line x1="1104.0" y1="1041.1" x2="1322.0" y2="1041.1" stroke="#333" stroke-width="3" />
<line x1="1104.0" y1="1041.1" x2="1116.5" y2="1041.1" stroke="#444" stroke-width="3" />
<text x="1097.9" y="1050.3" font-size="23.5" text-anchor="end" class="sb">0</text>
<line x1="1104.0" y1="963.7" x2="1116.5" y2="963.7" stroke="#444" stroke-width="3" />
<text x="1097.9" y="972.9" font-size="23.5" text-anchor="end" class="sb">5</text>
<line x1="1104.0" y1="886.3" x2="1116.5" y2="886.3" stroke="#444" stroke-width="3" />
<text x="1097.9" y="895.5" font-size="23.5" text-anchor="end" class="sb">10</text>
<line x1="1104.0" y1="808.9" x2="1116.5" y2="808.9" stroke="#444" stroke-width="3" />
<text x="1097.9" y="818.1" font-size="23.5" text-anchor="end" class="sb">15</text>
<line x1="1104.0" y1="731.5" x2="1116.5" y2="731.5" stroke="#444" stroke-width="3" />
<text x="1097.9" y="740.7" font-size="23.5" text-anchor="end" class="sb">20</text>
<line x1="1158.5" y1="807.7" x2="1158.5" y2="855.6" stroke="#222" stroke-width="1.8" />
<line x1="1148.5" y1="807.7" x2="1168.5" y2="807.7" stroke="#222" stroke-width="1.8" />
<rect x="1140.7" y="855.4" width="35.6" height="185.7" fill="#585858" stroke="#000" stroke-width="3.6" />
<line x1="1158.5" y1="853.6" x2="1158.5" y2="896.8" stroke="#222" stroke-width="1.8" />
<line x1="1148.5" y1="896.8" x2="1168.5" y2="896.8" stroke="#222" stroke-width="1.8" />
<circle cx="1158.5" cy="791.3" r="3.9" fill="#000"/>
<circle cx="1158.5" cy="852.8" r="3.9" fill="#000"/>
<circle cx="1158.5" cy="869.1" r="3.9" fill="#000"/>
<circle cx="1158.5" cy="895.5" r="3.9" fill="#000"/>
<line x1="1158.5" y1="1041.1" x2="1158.5" y2="1054.1" stroke="#333" stroke-width="3" />
<line x1="1220.2" y1="792.1" x2="1220.2" y2="844.3" stroke="#222" stroke-width="1.8" />
<line x1="1210.2" y1="792.1" x2="1230.2" y2="792.1" stroke="#222" stroke-width="1.8" />
<rect x="1202.4" y="844.1" width="35.6" height="197.0" fill="#a8a8a8" stroke="#000" stroke-width="3.6" />
<line x1="1220.2" y1="842.3" x2="1220.2" y2="888.0" stroke="#222" stroke-width="1.8" />
<line x1="1210.2" y1="888.0" x2="1230.2" y2="888.0" stroke="#222" stroke-width="1.8" />
<circle cx="1220.2" cy="778.0" r="3.9" fill="#000"/>
<circle cx="1220.2" cy="829.0" r="3.9" fill="#000"/>
<circle cx="1220.2" cy="871.7" r="3.9" fill="#000"/>
<circle cx="1220.2" cy="884.2" r="3.9" fill="#000"/>
<line x1="1220.2" y1="1041.1" x2="1220.2" y2="1054.1" stroke="#333" stroke-width="3" />
<line x1="1281.8" y1="809.4" x2="1281.8" y2="847.8" stroke="#222" stroke-width="1.8" />
<line x1="1271.8" y1="809.4" x2="1291.8" y2="809.4" stroke="#222" stroke-width="1.8" />
<rect x="1264.0" y="847.6" width="35.6" height="193.5" fill="#fff" stroke="#000" stroke-width="3.6" />
<line x1="1281.8" y1="845.8" x2="1281.8" y2="880.4" stroke="#222" stroke-width="1.8" />
<line x1="1271.8" y1="880.4" x2="1291.8" y2="880.4" stroke="#222" stroke-width="1.8" />
<circle cx="1272.3" cy="824.0" r="3.9" fill="#000"/>
<circle cx="1291.6" cy="824.0" r="3.9" fill="#000"/>
<circle cx="1281.8" cy="886.0" r="3.9" fill="#000"/>
<line x1="1281.8" y1="1041.1" x2="1281.8" y2="1054.1" stroke="#333" stroke-width="3" />
<text x="1163.5" y="1074.8" font-size="22.5" text-anchor="end" textLength="90.7" lengthAdjust="spacingAndGlyphs" fill="#111" transform="rotate(-45 1163.5 1074.8)" class="sb">Placebo</text>
<text x="1224.0" y="1074.0" font-size="22.5" text-anchor="end" textLength="77.6" lengthAdjust="spacingAndGlyphs" fill="#111" transform="rotate(-45 1224.0 1074.0)" class="sb">Equilin</text>
<text x="1286.4" y="1074.3" font-size="22.5" text-anchor="end" textLength="30.0" lengthAdjust="spacingAndGlyphs" fill="#111" transform="rotate(-45 1286.4 1074.3)" class="sb">E2</text>
<text x="1040.7" y="894.0" font-size="24.5" textLength="71.5" lengthAdjust="spacingAndGlyphs" fill="#111" transform="rotate(-90 1040.7 894.0)">mg/dL</text>
<text x="1390.0" y="667.4" font-size="35" font-weight="bold" textLength="25.5" lengthAdjust="spacingAndGlyphs">H</text>
<text x="1441.1" y="698.0" font-size="29" textLength="160.2" lengthAdjust="spacingAndGlyphs" fill="#111">Triglyceride</text>
<line x1="1438.4" y1="731.5" x2="1438.4" y2="1041.1" stroke="#555" stroke-width="3" />
<line x1="1425.9" y1="1041.1" x2="1644.0" y2="1041.1" stroke="#333" stroke-width="3" />
<line x1="1425.9" y1="1041.1" x2="1438.4" y2="1041.1" stroke="#444" stroke-width="3" />
<text x="1419.8" y="1050.3" font-size="23.5" text-anchor="end" class="sb">0</text>
<line x1="1425.9" y1="963.7" x2="1438.4" y2="963.7" stroke="#444" stroke-width="3" />
<text x="1419.8" y="972.9" font-size="23.5" text-anchor="end" class="sb">10</text>
<line x1="1425.9" y1="886.3" x2="1438.4" y2="886.3" stroke="#444" stroke-width="3" />
<text x="1419.8" y="895.5" font-size="23.5" text-anchor="end" class="sb">20</text>
<line x1="1425.9" y1="808.9" x2="1438.4" y2="808.9" stroke="#444" stroke-width="3" />
<text x="1419.8" y="818.1" font-size="23.5" text-anchor="end" class="sb">30</text>
<line x1="1425.9" y1="731.5" x2="1438.4" y2="731.5" stroke="#444" stroke-width="3" />
<text x="1419.8" y="740.7" font-size="23.5" text-anchor="end" class="sb">40</text>
<line x1="1479.6" y1="828.2" x2="1479.6" y2="902.5" stroke="#222" stroke-width="1.8" />
<line x1="1469.6" y1="828.2" x2="1489.6" y2="828.2" stroke="#222" stroke-width="1.8" />
<rect x="1461.8" y="902.3" width="35.6" height="138.8" fill="#585858" stroke="#000" stroke-width="3.6" />
<line x1="1479.6" y1="900.5" x2="1479.6" y2="969.5" stroke="#222" stroke-width="1.8" />
<line x1="1469.6" y1="969.5" x2="1489.6" y2="969.5" stroke="#222" stroke-width="1.8" />
<circle cx="1479.6" cy="793.3" r="3.9" fill="#000"/>
<circle cx="1470.6" cy="929.4" r="3.9" fill="#000"/>
<circle cx="1470.6" cy="940.2" r="3.9" fill="#000"/>
<circle cx="1488.6" cy="933.2" r="3.9" fill="#000"/>
<line x1="1479.6" y1="1041.1" x2="1479.6" y2="1054.1" stroke="#333" stroke-width="3" />
<line x1="1541.6" y1="840.3" x2="1541.6" y2="889.5" stroke="#222" stroke-width="1.8" />
<line x1="1531.6" y1="840.3" x2="1551.6" y2="840.3" stroke="#222" stroke-width="1.8" />
<rect x="1523.8" y="889.3" width="35.6" height="151.8" fill="#a8a8a8" stroke="#000" stroke-width="3.6" />
<line x1="1541.6" y1="887.5" x2="1541.6" y2="931.4" stroke="#222" stroke-width="1.8" />
<line x1="1531.6" y1="931.4" x2="1551.6" y2="931.4" stroke="#222" stroke-width="1.8" />
<circle cx="1541.6" cy="832.8" r="3.9" fill="#000"/>
<circle cx="1541.6" cy="876.7" r="3.9" fill="#000"/>
<circle cx="1541.6" cy="893.0" r="3.9" fill="#000"/>
<circle cx="1541.6" cy="943.2" r="3.9" fill="#000"/>
<line x1="1541.6" y1="1041.1" x2="1541.6" y2="1054.1" stroke="#333" stroke-width="3" />
<line x1="1603.6" y1="785.6" x2="1603.6" y2="841.8" stroke="#222" stroke-width="1.8" />
<line x1="1593.6" y1="785.6" x2="1613.6" y2="785.6" stroke="#222" stroke-width="1.8" />
<rect x="1585.8" y="841.6" width="35.6" height="199.5" fill="#fff" stroke="#000" stroke-width="3.6" />
<line x1="1603.6" y1="839.8" x2="1603.6" y2="891.0" stroke="#222" stroke-width="1.8" />
<line x1="1593.6" y1="891.0" x2="1613.6" y2="891.0" stroke="#222" stroke-width="1.8" />
<circle cx="1603.6" cy="780.0" r="3.9" fill="#000"/>
<circle cx="1603.6" cy="852.3" r="3.9" fill="#000"/>
<circle cx="1603.6" cy="883.5" r="3.9" fill="#000"/>
<line x1="1603.6" y1="1041.1" x2="1603.6" y2="1054.1" stroke="#333" stroke-width="3" />
<text x="1484.6" y="1074.8" font-size="22.5" text-anchor="end" textLength="90.7" lengthAdjust="spacingAndGlyphs" fill="#111" transform="rotate(-45 1484.6 1074.8)" class="sb">Placebo</text>
<text x="1545.4" y="1074.0" font-size="22.5" text-anchor="end" textLength="77.6" lengthAdjust="spacingAndGlyphs" fill="#111" transform="rotate(-45 1545.4 1074.0)" class="sb">Equilin</text>
<text x="1608.2" y="1074.3" font-size="22.5" text-anchor="end" textLength="30.0" lengthAdjust="spacingAndGlyphs" fill="#111" transform="rotate(-45 1608.2 1074.3)" class="sb">E2</text>
<text x="1365.7" y="894.0" font-size="24.5" textLength="71.5" lengthAdjust="spacingAndGlyphs" fill="#111" transform="rotate(-90 1365.7 894.0)">mg/dL</text>
<text x="1701.3" y="667.4" font-size="35" font-weight="bold" textLength="9.0" lengthAdjust="spacingAndGlyphs">I</text>
<text x="1756.7" y="695.9" font-size="29" textLength="174.6" lengthAdjust="spacingAndGlyphs" fill="#111">Chylomicron</text>
<line x1="1754.0" y1="731.5" x2="1754.0" y2="1041.1" stroke="#555" stroke-width="3" />
<line x1="1741.5" y1="1041.1" x2="1960.0" y2="1041.1" stroke="#333" stroke-width="3" />
<line x1="1741.5" y1="1041.1" x2="1754.0" y2="1041.1" stroke="#444" stroke-width="3" />
<text x="1735.4" y="1050.3" font-size="23.5" text-anchor="end" class="sb">0</text>
<line x1="1741.5" y1="963.7" x2="1754.0" y2="963.7" stroke="#444" stroke-width="3" />
<text x="1735.4" y="972.9" font-size="23.5" text-anchor="end" class="sb">50</text>
<line x1="1741.5" y1="886.3" x2="1754.0" y2="886.3" stroke="#444" stroke-width="3" />
<text x="1735.4" y="895.5" font-size="23.5" text-anchor="end" class="sb">100</text>
<line x1="1741.5" y1="808.9" x2="1754.0" y2="808.9" stroke="#444" stroke-width="3" />
<text x="1735.4" y="818.1" font-size="23.5" text-anchor="end" class="sb">150</text>
<line x1="1741.5" y1="731.5" x2="1754.0" y2="731.5" stroke="#444" stroke-width="3" />
<text x="1735.4" y="740.7" font-size="23.5" text-anchor="end" class="sb">200</text>
<line x1="1795.3" y1="819.7" x2="1795.3" y2="864.4" stroke="#222" stroke-width="1.8" />
<line x1="1785.3" y1="819.7" x2="1805.3" y2="819.7" stroke="#222" stroke-width="1.8" />
<rect x="1777.5" y="864.2" width="35.6" height="176.9" fill="#585858" stroke="#000" stroke-width="3.6" />
<line x1="1795.3" y1="862.4" x2="1795.3" y2="901.8" stroke="#222" stroke-width="1.8" />
<line x1="1785.3" y1="901.8" x2="1805.3" y2="901.8" stroke="#222" stroke-width="1.8" />
<circle cx="1785.5" cy="829.5" r="3.9" fill="#000"/>
<circle cx="1804.4" cy="823.5" r="3.9" fill="#000"/>
<circle cx="1795.3" cy="883.0" r="3.9" fill="#000"/>
<circle cx="1795.3" cy="908.0" r="3.9" fill="#000"/>
<line x1="1795.3" y1="1041.1" x2="1795.3" y2="1054.1" stroke="#333" stroke-width="3" />
<line x1="1857.5" y1="885.5" x2="1857.5" y2="933.9" stroke="#222" stroke-width="1.8" />
<line x1="1847.5" y1="885.5" x2="1867.5" y2="885.5" stroke="#222" stroke-width="1.8" />
<rect x="1839.7" y="933.7" width="35.6" height="107.4" fill="#a8a8a8" stroke="#000" stroke-width="3.6" />
<line x1="1857.5" y1="931.9" x2="1857.5" y2="977.1" stroke="#222" stroke-width="1.8" />
<line x1="1847.5" y1="977.1" x2="1867.5" y2="977.1" stroke="#222" stroke-width="1.8" />
<circle cx="1857.5" cy="877.9" r="3.9" fill="#000"/>
<circle cx="1848.3" cy="924.4" r="3.9" fill="#000"/>
<circle cx="1866.5" cy="930.6" r="3.9" fill="#000"/>
<circle cx="1857.5" cy="990.4" r="3.9" fill="#000"/>
<line x1="1857.5" y1="1041.1" x2="1857.5" y2="1054.1" stroke="#333" stroke-width="3" />
<line x1="1919.2" y1="906.0" x2="1919.2" y2="928.9" stroke="#222" stroke-width="1.8" />
<line x1="1909.2" y1="906.0" x2="1929.2" y2="906.0" stroke="#222" stroke-width="1.8" />
<rect x="1901.4" y="928.7" width="35.6" height="112.4" fill="#fff" stroke="#000" stroke-width="3.6" />
<line x1="1919.2" y1="926.9" x2="1919.2" y2="945.7" stroke="#222" stroke-width="1.8" />
<line x1="1909.2" y1="945.7" x2="1929.2" y2="945.7" stroke="#222" stroke-width="1.8" />
<circle cx="1919.2" cy="903.5" r="3.9" fill="#000"/>
<circle cx="1910.2" cy="937.7" r="3.9" fill="#000"/>
<circle cx="1928.6" cy="936.2" r="3.9" fill="#000"/>
<line x1="1919.2" y1="1041.1" x2="1919.2" y2="1054.1" stroke="#333" stroke-width="3" />
<text x="1800.3" y="1074.8" font-size="22.5" text-anchor="end" textLength="90.7" lengthAdjust="spacingAndGlyphs" fill="#111" transform="rotate(-45 1800.3 1074.8)" class="sb">Placebo</text>
<text x="1861.3" y="1074.0" font-size="22.5" text-anchor="end" textLength="77.6" lengthAdjust="spacingAndGlyphs" fill="#111" transform="rotate(-45 1861.3 1074.0)" class="sb">Equilin</text>
<text x="1923.8" y="1074.3" font-size="22.5" text-anchor="end" textLength="30.0" lengthAdjust="spacingAndGlyphs" fill="#111" transform="rotate(-45 1923.8 1074.3)" class="sb">E2</text>
<text x="1685.7" y="894.0" font-size="24.5" textLength="71.5" lengthAdjust="spacingAndGlyphs" fill="#111" transform="rotate(-90 1685.7 894.0)">mg/dL</text>
</svg>
</body></html>
